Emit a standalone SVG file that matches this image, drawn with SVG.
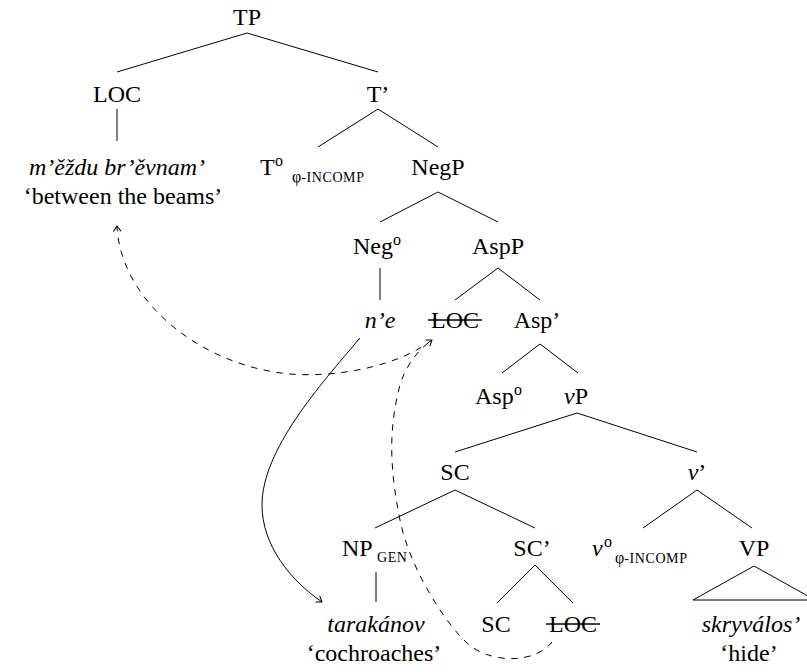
<svg xmlns="http://www.w3.org/2000/svg" width="807" height="672" viewBox="0 0 807 672">
  <style>
    text { font-family: "Liberation Serif", "Times New Roman", serif; font-size: 24px; fill: #000; }
    .m { text-anchor: middle; }
    .it { font-style: italic; }
    .sup { font-size: 16px; }
    .sc { font-size: 14px; letter-spacing: 0.6px; }
    .phi { font-size: 16px; }
    .edge { stroke: #000; stroke-width: 1; fill: none; }
    .strike { stroke: #000; stroke-width: 1.3; }
    .move { stroke: #000; stroke-width: 1; fill: none; }
    .dash { stroke-dasharray: 6.5 6.5; }
  </style>
  <defs>
    <marker id="head" markerUnits="userSpaceOnUse" markerWidth="12" markerHeight="12" viewBox="-6 -6 12 12" refX="0" refY="0" orient="auto">
      <path d="M-5,-3.5 L0,0 L-5,3.5" fill="none" stroke="#000" stroke-width="1" stroke-linecap="round" stroke-linejoin="round"/>
    </marker>
  </defs>

  <!-- tree branches -->
  <g id="connectors">
    <path class="edge" d="M117,72 L247,33 L378,72"/>
    <path class="edge" d="M117,109 L117,141"/>
    <path class="edge" d="M318,147 L378,109 L438,147"/>
    <path class="edge" d="M380,222 L438,192 L498,222"/>
    <path class="edge" d="M380,268 L380,300"/>
    <path class="edge" d="M455,300 L498,268 L540,300"/>
    <path class="edge" d="M502,373 L540,344 L578,373"/>
    <path class="edge" d="M455,452 L577,413 L697,452"/>
    <path class="edge" d="M375,528 L455,490 L535,528"/>
    <path class="edge" d="M643,528 L697,490 L752,528"/>
    <path class="edge" d="M376,572 L376,602"/>
    <path class="edge" d="M497,603 L535,565 L573,603"/>
    <path class="edge" d="M754,566 L693,600 L815,600 Z"/>

    <!-- movement arrows -->
    <path class="move dash" d="M432,340 C400,365 340,378 290,374 C200,366 120,300 117,226" marker-end="url(#head)"/>
    <path class="move dash" d="M552,642 C535,664 490,664 467,643 C447,625 410,570 400,520 C390,470 388,430 400,385 C406,365 418,350 432,340" marker-end="url(#head)"/>
    <path class="move" d="M360,338 C320,385 262,450 262,505 C262,545 290,580 322,602" marker-end="url(#head)"/>
  </g>

  <g id="TP"><text class="m" x="247" y="25">TP</text></g>
  <g id="LOC-top"><text class="m" x="117" y="102">LOC</text></g>
  <g id="Tbar"><text class="m" x="378" y="102">T’</text></g>
  <g id="LOC-lex">
    <text class="m it" x="117" y="175">m’ěždu br’ěvnam’</text>
    <text class="m" x="123" y="204">‘between the beams’</text>
  </g>
  <g id="T0">
    <text x="260" y="175">T<tspan class="sup" x="275" y="166">o</tspan><tspan class="phi" x="292" y="182">φ</tspan><tspan class="sc" y="182">-INCOMP</tspan></text>
  </g>
  <g id="NegP"><text class="m" x="438" y="175">NegP</text></g>
  <g id="Neg0"><text x="353" y="254">Neg<tspan class="sup" x="393" y="245">o</tspan></text></g>
  <g id="AspP"><text class="m" x="498" y="254">AspP</text></g>
  <g id="ne"><text class="m it" x="380" y="328">n’e</text></g>
  <g id="LOC-spec">
    <text class="m" x="455" y="328">LOC</text>
    <line class="strike" x1="428" y1="320" x2="482" y2="320"/>
  </g>
  <g id="Aspbar"><text class="m" x="537" y="328">Asp’</text></g>
  <g id="Asp0"><text x="475" y="404">Asp<tspan class="sup" x="514" y="395">o</tspan></text></g>
  <g id="vP"><text class="m" x="576" y="404"><tspan class="it">v</tspan>P</text></g>
  <g id="SC"><text class="m" x="455" y="480">SC</text></g>
  <g id="vbar"><text class="m" x="697" y="480"><tspan class="it">v</tspan>’</text></g>
  <g id="NPgen">
    <text x="342" y="556">NP<tspan class="sc" x="377" y="562">GEN</tspan></text>
  </g>
  <g id="SCbar"><text class="m" x="532" y="556">SC’</text></g>
  <g id="v0">
    <text x="592" y="556"><tspan class="it">v</tspan><tspan class="sup" x="604" y="547">o</tspan><tspan class="phi" x="615" y="563">φ</tspan><tspan class="sc" y="563">-INCOMP</tspan></text>
  </g>
  <g id="VP"><text class="m" x="754" y="556">VP</text></g>
  <g id="NP-lex">
    <text class="m it" x="376" y="632">tarakánov</text>
    <text class="m" x="374" y="661">‘cochroaches’</text>
  </g>
  <g id="SC-low"><text class="m" x="496" y="632">SC</text></g>
  <g id="LOC-low">
    <text class="m" x="573" y="632">LOC</text>
    <line class="strike" x1="546" y1="624" x2="600" y2="624"/>
  </g>
  <g id="VP-lex">
    <text class="m it" x="751" y="632">skryválos’</text>
    <text class="m" x="749" y="661">‘hide’</text>
  </g>
</svg>
